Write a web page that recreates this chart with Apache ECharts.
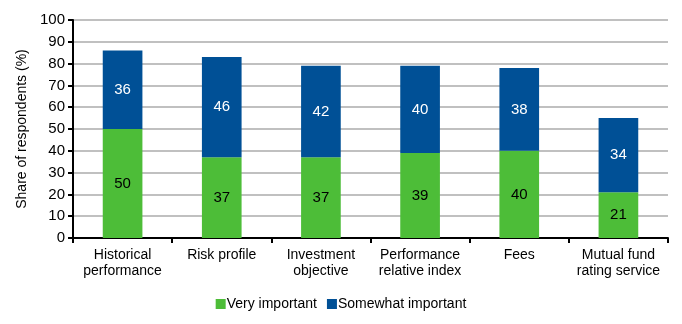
<!DOCTYPE html>
<html><head><meta charset="utf-8">
<script src="https://cdn.jsdelivr.net/npm/echarts@6/dist/echarts.min.js"></script>
<style>html,body{margin:0;padding:0;background:#fff}#c{width:682px;height:324px}</style>
</head><body><div id="c"></div>
<script>
const categories = ["Historical\nperformance","Risk profile","Investment\nobjective","Performance\nrelative index","Fees","Mutual fund\nrating service"];
const veryImportant = [50,37,37,39,40,21];
const somewhatImportant = [36,46,42,40,38,34];
const yTicks = {min:0,max:100,interval:10};
const font = "'Liberation Sans', Arial, sans-serif";
const chart = echarts.init(document.getElementById('c'));
chart.setOption({
  animation:false,
  textStyle:{fontFamily:font},
  grid:{left:73,right:14,top:20,bottom:86},
  legend:{
    bottom:8,left:'center',itemWidth:10,itemHeight:10,itemGap:10,
    icon:'rect',
    textStyle:{fontFamily:font,fontSize:14,color:'#000',padding:[0,0,0,-4]},
    data:['Very important','Somewhat important']
  },
  xAxis:{
    type:'category',data:categories,
    axisLine:{lineStyle:{color:'#000',width:2}},
    axisTick:{show:true,length:5,lineStyle:{color:'#000',width:2}},
    axisLabel:{fontFamily:font,fontSize:14,color:'#000',lineHeight:16,margin:9,interval:0}
  },
  yAxis:{
    type:'value',min:yTicks.min,max:yTicks.max,interval:yTicks.interval,
    name:'Share of respondents (%)',nameLocation:'middle',nameGap:41,
    nameTextStyle:{fontFamily:font,fontSize:14,color:'#000'},
    axisLine:{show:true,lineStyle:{color:'#000',width:2}},
    axisTick:{show:true,length:5,lineStyle:{color:'#000',width:2}},
    axisLabel:{fontFamily:font,fontSize:15,color:'#000',margin:8},
    splitLine:{lineStyle:{color:'#c0c0c0',width:2}}
  },
  series:[
    {name:'Very important',type:'bar',stack:'a',data:veryImportant,barWidth:'40%',
     itemStyle:{color:'#4dbd38'},
     label:{show:true,position:'inside',color:'#000',fontSize:15,fontFamily:font}},
    {name:'Somewhat important',type:'bar',stack:'a',data:somewhatImportant,barWidth:'40%',
     itemStyle:{color:'#005096'},
     label:{show:true,position:'inside',color:'#fff',fontSize:15,fontFamily:font}}
  ]
});
</script></body></html>
